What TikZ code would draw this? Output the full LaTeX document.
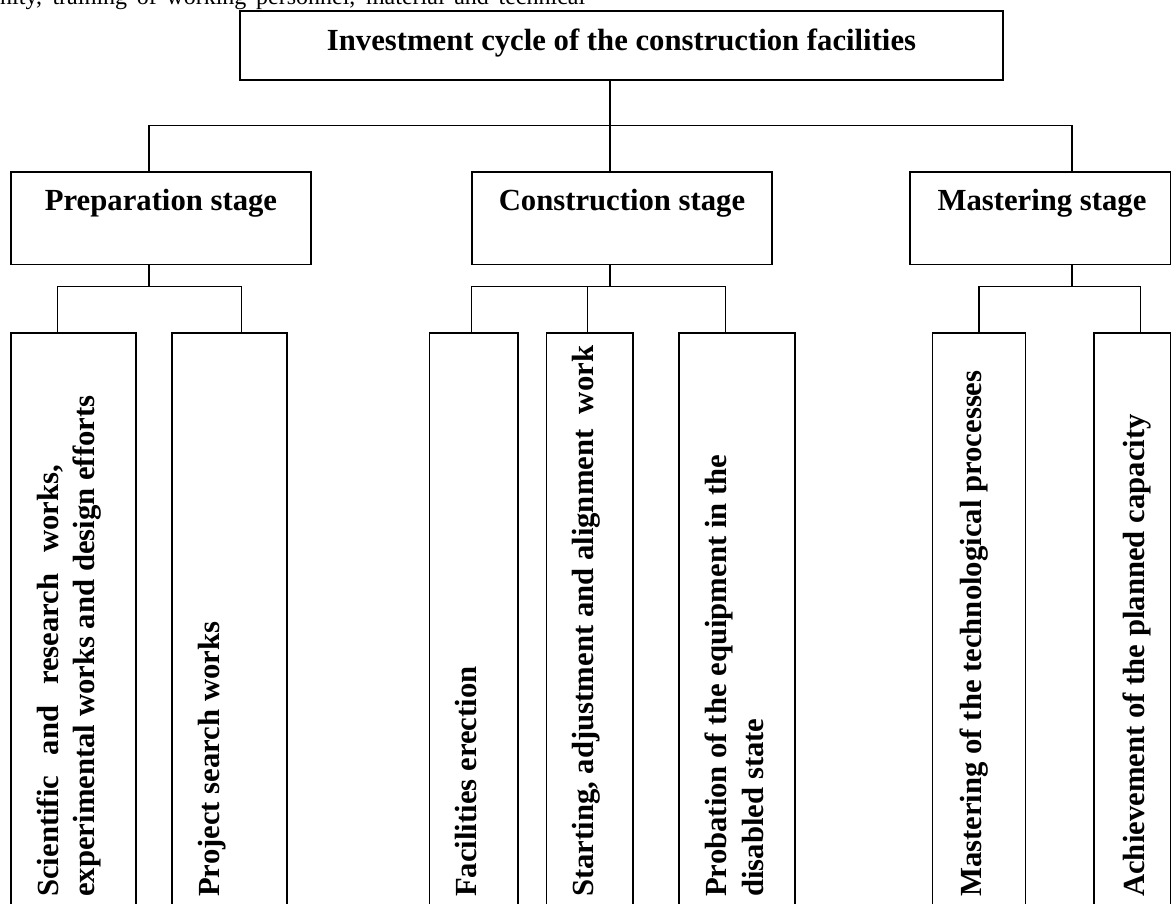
\documentclass[tikz,border=0pt]{standalone}
\usepackage{fontspec}
\setmainfont{Liberation Serif}
\begin{document}
\begin{tikzpicture}[x=1pt,y=-1pt,
  box/.style={draw, line width=1.4pt, inner sep=0pt, outer sep=0pt, anchor=north west},
  ttl/.style={font=\fontsize{30.7}{35}\selectfont\bfseries, inner sep=0pt, anchor=base},
  vtxt/.style={font=\fontsize{30.7}{35}\selectfont\bfseries, inner sep=0pt, rotate=90, anchor=base west},
  conn/.style={draw, line width=1.3pt}]
\useasboundingbox (0,0) rectangle (1172,903);
\clip (0,0) rectangle (1172,903);

% cut text at the top
\node[font=\fontsize{24}{28}\selectfont, anchor=base west, inner sep=0pt] (tcut) at (0,4)
  {\makebox[585pt][s]{nity, training of working personnel, material and technical}};

% boxes
\node[box, minimum width=763pt, minimum height=69pt] (top) at (240,11) {};
\node[box, minimum width=300pt, minimum height=92.3pt] (prep) at (11,172) {};
\node[box, minimum width=300pt, minimum height=92.3pt] (constr) at (472,172) {};
\node[box, minimum width=260.5pt, minimum height=92.3pt] (master) at (910,172) {};

\node[box, minimum width=125pt, minimum height=590pt] (l1) at (11,333) {};
\node[box, minimum width=115pt, minimum height=590pt] (l2) at (172,333) {};
\node[box, minimum width=88.3pt, minimum height=590pt] (l3) at (429.7,333) {};
\node[box, minimum width=86.3pt, minimum height=590pt] (l4) at (546.7,333) {};
\node[box, minimum width=116pt, minimum height=590pt] (l5) at (679,333) {};
\node[box, minimum width=93pt, minimum height=590pt] (l6) at (932.7,333) {};
\node[box, minimum width=76.5pt, minimum height=590pt] (l7) at (1094,333) {};

% texts
\node[ttl] (ttop) at (621.5,50) {Investment cycle of the construction facilities};
\node[ttl] (tprep) at (161,210) {Preparation stage};
\node[ttl] (tcon) at (622,210) {Construction stage};
\node[ttl] (tmas) at (1042,210) {Mastering stage};

\node[vtxt] (t1a) at (58,897) {\makebox[432pt][s]{Scientific and research works,}};
\node[vtxt] (t1b) at (94,897) {experimental works and design efforts};
\node[vtxt] (t2) at (219,897) {Project search works};
\node[vtxt] (t3) at (476,897) {Facilities erection};
\node[vtxt] (t4) at (593,897) {Starting, adjustment and alignment\ \ work};
\node[vtxt] (t5a) at (726,897) {Probation of the equipment in the};
\node[vtxt] (t5b) at (763,897) {disabled state};
\node[vtxt] (t6) at (981,897) {Mastering of the technological processes};
\node[vtxt] (t7) at (1144,897) {Achievement of the planned capacity};

% junctions
\coordinate (h0) at (610,125.7);
\coordinate (hL) at (149,125.7);
\coordinate (hR) at (1072,125.7);
\coordinate (p0) at (149,286.7);
\coordinate (pa) at (57.3,286.7);
\coordinate (pb) at (241.7,286.7);
\coordinate (c0) at (610,286.7);
\coordinate (ca) at (471.7,286.7);
\coordinate (cb) at (587.3,286.7);
\coordinate (cc) at (725.7,286.7);
\coordinate (m0) at (1072,286.7);
\coordinate (ma) at (979,286.7);
\coordinate (mb) at (1140.3,286.7);

% connectors
\draw[conn] (top.south -| h0) -- (h0);
\draw[conn] (prep.north -| hL) -- (hL) -- (hR) -- (master.north -| hR);
\draw[conn] (h0) -- (constr.north -| h0);

\draw[conn] (prep.south -| p0) -- (p0);
\draw[conn] (l1.north -| pa) -- (pa) -- (pb) -- (l2.north -| pb);

\draw[conn] (constr.south -| c0) -- (c0);
\draw[conn] (l3.north -| ca) -- (ca) -- (cc) -- (l5.north -| cc);
\draw[conn] (cb) -- (l4.north -| cb);

\draw[conn] (master.south -| m0) -- (m0);
\draw[conn] (l6.north -| ma) -- (ma) -- (mb) -- (l7.north -| mb);
\end{tikzpicture}
\end{document}
